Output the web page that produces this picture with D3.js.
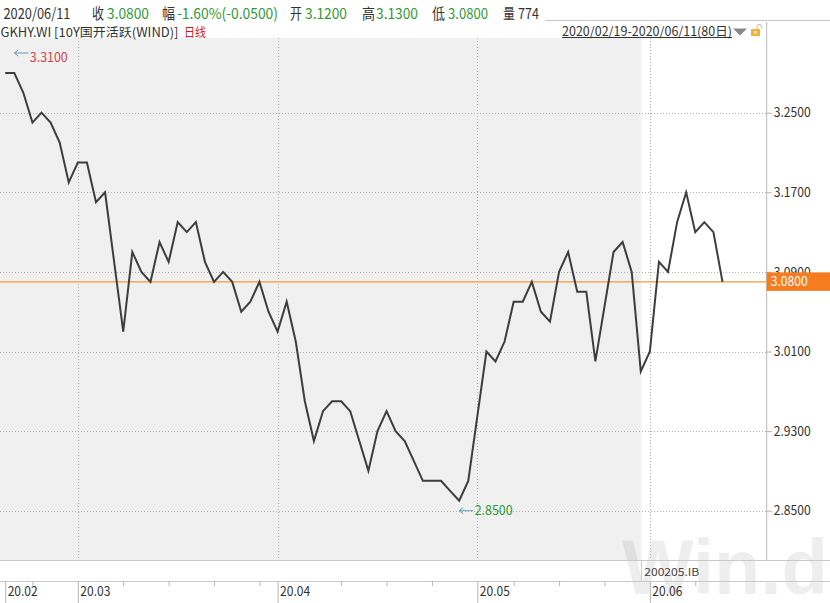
<!DOCTYPE html>
<html><head><meta charset="utf-8">
<script src="https://cdn.jsdelivr.net/npm/d3@7"></script>
<style>
body{margin:0;background:#fff;}
svg{display:block;font-family:"Noto Sans CJK SC","Noto Sans",sans-serif;}
</style>
</head><body>
<svg id="c" width="830" height="603"></svg>
<script>
// ---------- data ----------
const dates = [
 "02/19","02/20","02/21","02/24","02/25","02/26","02/27","02/28",
 "03/02","03/03","03/04","03/05","03/06","03/09","03/10","03/11","03/12","03/13","03/16","03/17","03/18","03/19","03/20","03/23","03/24","03/25","03/26","03/27","03/30","03/31",
 "04/01","04/02","04/03","04/07","04/08","04/09","04/10","04/13","04/14","04/15","04/16","04/17","04/20","04/21","04/22","04/23","04/24","04/26","04/27","04/28","04/29","04/30",
 "05/06","05/07","05/08","05/09","05/11","05/12","05/13","05/14","05/15","05/18","05/19","05/20","05/21","05/22","05/25","05/26","05/27","05/28","05/29",
 "06/01","06/02","06/03","06/04","06/05","06/08","06/09","06/10","06/11"
];
const closes = [
 3.29,3.29,3.27,3.24,3.25,3.24,3.22,3.18,
 3.20,3.20,3.16,3.17,3.10,3.03,3.11,3.09,3.08,3.12,3.10,3.14,3.13,3.14,3.10,3.08,3.09,3.08,3.05,3.06,3.08,3.05,
 3.03,3.06,3.02,2.96,2.92,2.95,2.96,2.96,2.95,2.92,2.89,2.93,2.95,2.93,2.92,2.90,2.88,2.88,2.88,2.87,2.86,2.88,
 2.945,3.01,3.00,3.02,3.06,3.06,3.08,3.05,3.04,3.09,3.11,3.07,3.07,3.00,3.055,3.11,3.12,3.09,2.99,
 3.01,3.10,3.09,3.14,3.17,3.13,3.14,3.13,3.08
];
const yTicks = [3.25, 3.17, 3.09, 3.01, 2.93, 2.85];
const monthLabels = ["20.02","20.03","20.04","20.05","20.06"];
const weekTicks = ["02/24","03/09","03/16","03/23","03/30","04/13","04/20","04/26","05/11","05/18","05/25","06/08"];
const lastClose = 3.08;
const markDates = ["02/20","04/29"];
const markValues = [3.31, 2.85];
const shadeEndDate = "05/29";
const shadeLabel = "200205.IB";
const headerParts = [
 ["2020/06/11","#333"],["收","#333"],["3.0800","#2e9a35"],["幅","#333"],["-1.60%(-0.0500)","#2e9a35"],
 ["开","#333"],["3.1200","#2e9a35"],["高","#333"],["3.1300","#2e9a35"],["低","#333"],["3.0800","#2e9a35"],["量","#333"],["774","#333"]
];
const titleText = "GKHY.WI [10Y国开活跃(WIND)]";
const periodText = "日线";
const rangeText = "2020/02/19-2020/06/11(80日)";

// ---------- layout ----------
const svg = d3.select("#c");
const plotTop = 38, plotBottom = 560, stripBottom = 581, axisX = 766.7;
const x = d3.scalePoint().domain(dates).range([5.2, 722.5]);
const y = d3.scaleLinear().domain([2.85, 3.25]).range([510.7, 112.7]);

const monthStarts = dates.filter((d,i)=> i===0 || d.slice(0,2)!==dates[i-1].slice(0,2));

// background
svg.append("rect").attr("x",0).attr("y",plotTop).attr("width",x(shadeEndDate)+0.5).attr("height",plotBottom-plotTop).attr("fill","#f0f0f0");

// watermark
svg.append("text").attr("x",622).attr("y",594).text("Win.d")
  .attr("font-family","'Liberation Sans',Arial,sans-serif").attr("font-weight","bold")
  .attr("font-size",78).attr("textLength",206).attr("lengthAdjust","spacingAndGlyphs")
  .attr("fill","#000").attr("fill-opacity",0.065);

// horizontal grid
svg.append("g").selectAll("line").data(yTicks).join("line")
  .attr("x1",0).attr("x2",axisX).attr("y1",d=>Math.round(y(d))+0.5).attr("y2",d=>Math.round(y(d))+0.5)
  .attr("stroke","#b0b0b0").attr("stroke-dasharray","1,2");
svg.append("g").selectAll("line").data(monthStarts.slice(1)).join("line")
  .attr("x1",d=>Math.round(x(d))+0.5).attr("x2",d=>Math.round(x(d))+0.5).attr("y1",plotTop).attr("y2",plotBottom)
  .attr("stroke","#b0b0b0").attr("stroke-dasharray","1,2");

// strip lines
svg.append("line").attr("x1",0).attr("x2",830).attr("y1",plotBottom+0.5).attr("y2",plotBottom+0.5).attr("stroke","#c8c8c8");
svg.append("line").attr("x1",0).attr("x2",830).attr("y1",stripBottom+0.5).attr("y2",stripBottom+0.5).attr("stroke","#c8c8c8");
svg.append("line").attr("x1",Math.round(x(shadeEndDate))+0.5).attr("x2",Math.round(x(shadeEndDate))+0.5)
  .attr("y1",plotBottom).attr("y2",stripBottom).attr("stroke","#c8c8c8");
svg.append("text").attr("x",x(shadeEndDate)+3.5).attr("y",576).text(shadeLabel)
  .attr("font-size",11).attr("fill","#444").attr("textLength",55).attr("lengthAdjust","spacingAndGlyphs");

// header separator & axis line
svg.append("line").attr("x1",545).attr("x2",830).attr("y1",20.5).attr("y2",20.5).attr("stroke","#c8c8c8");
svg.append("line").attr("x1",axisX).attr("x2",axisX).attr("y1",22).attr("y2",plotBottom).attr("stroke","#b8b8b8");

// last close reference line
svg.append("line").attr("x1",0).attr("x2",axisX).attr("y1",y(lastClose)).attr("y2",y(lastClose))
  .attr("stroke","#f39a3c").attr("stroke-width",1.3);

// y axis
const yAxis = d3.axisRight(y).tickValues(yTicks).tickSize(5).tickPadding(2).tickFormat(d3.format(".4f"));
const gy = svg.append("g").attr("transform",`translate(${axisX},0)`).call(yAxis);
gy.select(".domain").remove();
gy.selectAll(".tick line").attr("stroke","#b0b0b0");
gy.selectAll(".tick text").attr("fill","#333").attr("font-size",13).attr("font-family","'Noto Sans CJK SC','Noto Sans',sans-serif")
  .attr("textLength",37).attr("lengthAdjust","spacingAndGlyphs");

// last close label box
svg.append("rect").attr("x",axisX).attr("y",y(lastClose)-9.5).attr("width",830-axisX).attr("height",18.5).attr("fill","#f57c1f");
svg.append("text").attr("x",axisX+4).attr("y",y(lastClose)+4.5).text(d3.format(".4f")(lastClose))
  .attr("fill","#fff").attr("font-size",13).attr("textLength",37).attr("lengthAdjust","spacingAndGlyphs");

// x axis
const xAxis = d3.axisBottom(x).tickValues(monthStarts).tickSize(22).tickFormat((d,i)=>monthLabels[i]);
const gx = svg.append("g").attr("transform",`translate(0,${stripBottom})`).call(xAxis);
gx.select(".domain").remove();
gx.selectAll(".tick line").attr("stroke","#b8b8b8");
gx.selectAll(".tick text").attr("text-anchor","start").attr("x",2).attr("y",5.5).attr("dy","0.71em")
  .attr("fill","#333").attr("font-size",13.5).attr("font-family","'Noto Sans CJK SC','Noto Sans',sans-serif")
  .attr("textLength",30).attr("lengthAdjust","spacingAndGlyphs");
const wAxis = d3.axisBottom(x).tickValues(weekTicks).tickSize(5).tickFormat("");
const gw = svg.append("g").attr("transform",`translate(0,${stripBottom})`).call(wAxis);
gw.select(".domain").remove();
gw.selectAll(".tick line").attr("stroke","#b8b8b8");

// price line
const line = d3.line().x((d,i)=>x(dates[i])).y(d=>y(d));
svg.append("path").datum(closes).attr("d",line).attr("fill","none")
  .attr("stroke","#3d3d3d").attr("stroke-width",2).attr("stroke-linejoin","miter");

// high/low marks
const markTextColors = ["#d04545","#2e9a35"];
const markDy = [9, 4.5];
markDates.forEach((d,i)=>{
  const px = x(d), py = y(markValues[i]);
  const g = svg.append("g");
  g.append("path").attr("d",`M${px},${py}H${px+14}M${px+4},${py-3}L${px},${py}L${px+4},${py+3}`)
    .attr("fill","none").attr("stroke","#5f9fb0").attr("stroke-width",1);
  g.append("text").attr("x",px+15.5).attr("y",py+markDy[i]).text(d3.format(".4f")(markValues[i]))
    .attr("fill",markTextColors[i]).attr("font-size",13).attr("textLength",38).attr("lengthAdjust","spacingAndGlyphs");
});

// header row 1
const hx = [3.5,92,107,162,177,290,305,362,376,432,448,503,518];
const hw = [67,12,42,13,101,12,42,13,42,13,40,12,21];
svg.append("g").selectAll("text").data(headerParts).join("text")
  .attr("x",(d,i)=>hx[i]).attr("y",19).text(d=>d[0]).attr("fill",d=>d[1])
  .attr("font-size",15).attr("textLength",(d,i)=>hw[i]).attr("lengthAdjust","spacingAndGlyphs");

// header row 2
svg.append("text").attr("x",0.5).attr("y",37).text(titleText).attr("fill","#333").attr("font-size",12.5)
  .attr("textLength",178).attr("lengthAdjust","spacingAndGlyphs");
svg.append("text").attr("x",184).attr("y",37).text(periodText).attr("fill","#d42020").attr("font-size",12.5)
  .attr("textLength",22).attr("lengthAdjust","spacingAndGlyphs");
svg.append("text").attr("x",562).attr("y",35.5).text(rangeText).attr("fill","#333").attr("font-size",12.5)
  .attr("textLength",170).attr("lengthAdjust","spacingAndGlyphs");
svg.append("line").attr("x1",562).attr("x2",732).attr("y1",37.5).attr("y2",37.5).attr("stroke","#333");
svg.append("path").attr("d","M733,28.5H747L740,35.5Z").attr("fill","#888");
svg.append("rect").attr("x",751).attr("y",29).attr("width",9).attr("height",7).attr("fill","#f0b43c");
svg.append("path").attr("d","M757,29V26.5A2.2,2.2 0 0 1 761.4,26.5V28").attr("fill","none").attr("stroke","#d9a440").attr("stroke-width",0.8);
svg.append("rect").attr("x",754.5).attr("y",31).attr("width",2).attr("height",2.5).attr("fill","#fff8e0");
</script>
</body></html>
